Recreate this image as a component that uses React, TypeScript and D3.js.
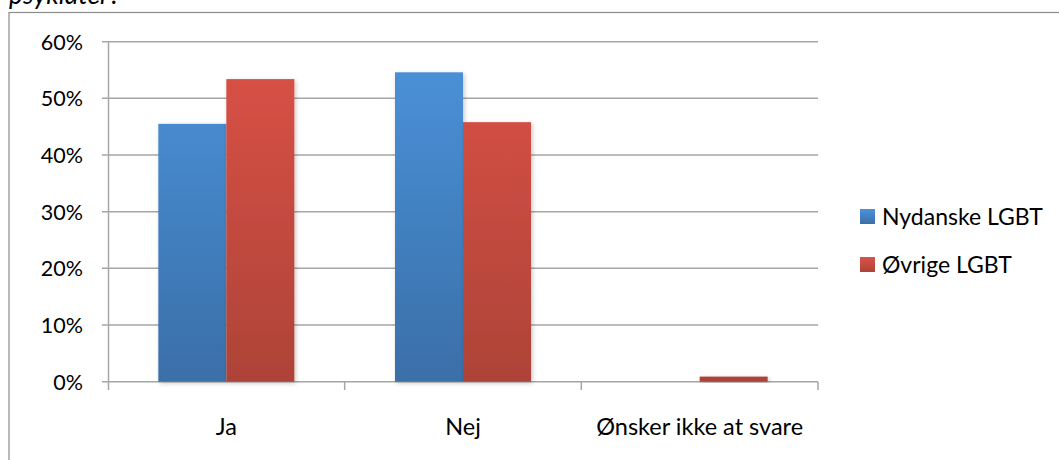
import React from "react";
import * as d3 from "d3";

const categories = ["Ja", "Nej", "Ønsker ikke at svare"];
const seriesNames = ["Nydanske LGBT", "Øvrige LGBT"];
const nydanske = [45.5, 54.6, 0];
const ovrige = [53.4, 45.8, 0.9];
const yTicks = [0, 10, 20, 30, 40, 50, 60];

const W = 1059, H = 460;
const font = "Lato, 'Open Sans', sans-serif";

export default function App() {
  const x0 = d3.scaleBand<string>().domain(categories).range([108, 818]).paddingInner(0).paddingOuter(0);
  const inner = d3.scaleBand<string>().domain(seriesNames).range([0, x0.bandwidth()]).paddingInner(0).paddingOuter(0.74);
  const y = d3.scaleLinear().domain([0, 60]).range([381.7, 41.7]);
  const values = [nydanske, ovrige];
  const boundaries = [...categories.map((c) => x0(c) as number), 818];

  return (
    <svg width={W} height={H} style={{ position: "absolute", left: 0, top: 0, background: "#fff" }}>
      <defs>
        <linearGradient id="gB" x1="0" y1={41.7} x2="0" y2={381.7} gradientUnits="userSpaceOnUse">
          <stop offset="0" stopColor="#4b93db" />
          <stop offset="1" stopColor="#3a6fa8" />
        </linearGradient>
        <linearGradient id="gR" x1="0" y1={41.7} x2="0" y2={381.7} gradientUnits="userSpaceOnUse">
          <stop offset="0" stopColor="#dc5247" />
          <stop offset="1" stopColor="#ad4337" />
        </linearGradient>
        <linearGradient id="gLB" x1="0" y1="0" x2="0" y2="1">
          <stop offset="0" stopColor="#4b93db" />
          <stop offset="1" stopColor="#3a6fa8" />
        </linearGradient>
        <linearGradient id="gLR" x1="0" y1="0" x2="0" y2="1">
          <stop offset="0" stopColor="#dc5247" />
          <stop offset="1" stopColor="#ad4337" />
        </linearGradient>
        <filter id="shadow" x="-20%" y="-20%" width="140%" height="140%">
          <feDropShadow dx="1.5" dy="1.5" stdDeviation="2" floodColor="#000" floodOpacity="0.22" />
        </filter>
      </defs>
      <text x={9} y={3.5} fontFamily={font} fontStyle="italic" fontSize={26.5} fill="#000">psykiater?</text>
      <rect x={9} y={12.5} width={1060} height={460} fill="none" stroke="#8c8c8c" strokeWidth={1.2} />
      {yTicks.map((t) => (
        <g key={t}>
          <line x1={102} x2={818} y1={y(t)} y2={y(t)} stroke="#a6a6a6" strokeWidth={1.5} />
          <text x={83} y={y(t) + 7.8} textAnchor="end" fontFamily={font} fontSize={21.5} fill="#000">{t}%</text>
        </g>
      ))}
      <line x1={108.5} x2={108.5} y1={y(60)} y2={390} stroke="#a6a6a6" strokeWidth={1.5} />
      {boundaries.slice(1).map((b, i) => (
        <line key={i} x1={b} x2={b} y1={y(0)} y2={390} stroke="#a6a6a6" strokeWidth={1.5} />
      ))}
      {categories.map((c, ci) => (
        <g key={c}>
          {seriesNames.map((s, si) => {
            const v = values[si][ci];
            if (v <= 0) return null;
            const bx = (x0(c) as number) + (inner(s) as number);
            return (
              <rect key={s} x={bx} y={y(v)} width={inner.bandwidth()} height={y(0) - y(v)}
                fill={si === 0 ? "url(#gB)" : "url(#gR)"} filter="url(#shadow)" />
            );
          })}
          <text x={(x0(c) as number) + x0.bandwidth() / 2} y={435} textAnchor="middle" fontFamily={font} fontSize={23.5} fill="#000">{c}</text>
        </g>
      ))}
      {seriesNames.map((s, i) => (
        <g key={s}>
          <rect x={860} y={209 + i * 48} width={15} height={15} fill={i === 0 ? "url(#gLB)" : "url(#gLR)"} />
          <text x={882} y={225 + i * 48} fontFamily={font} fontSize={23} fill="#000">{s}</text>
        </g>
      ))}
    </svg>
  );
}
